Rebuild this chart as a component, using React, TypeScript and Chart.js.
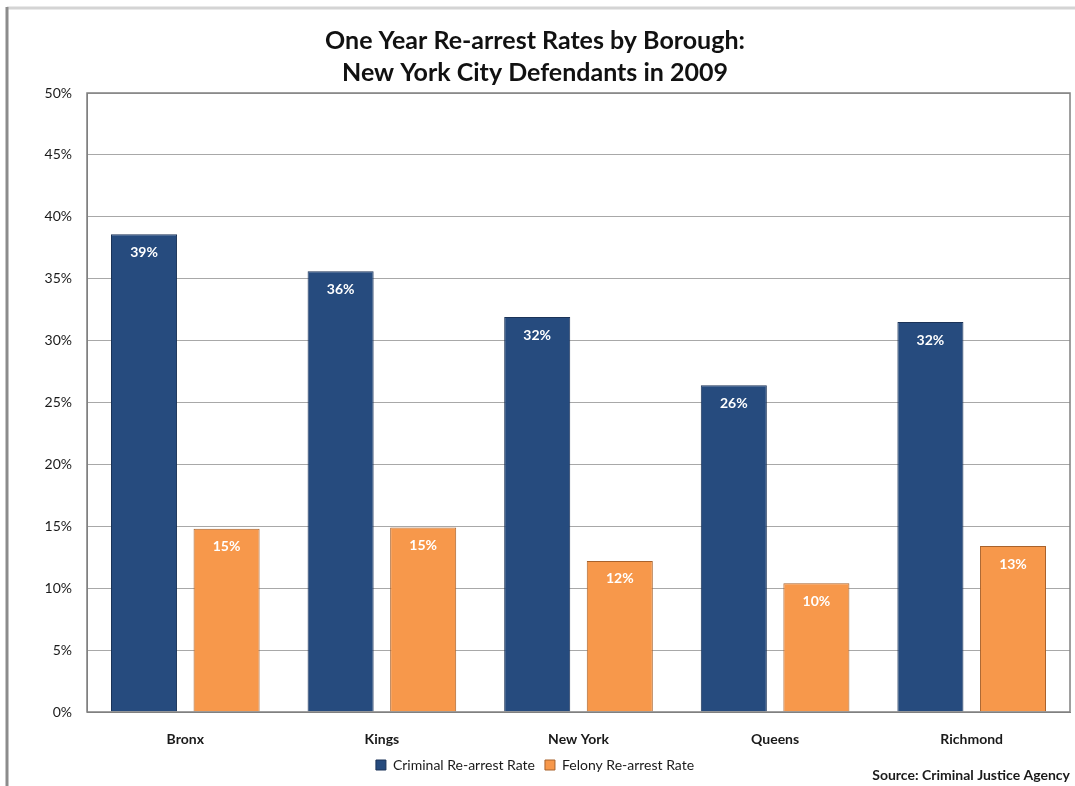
import React, { useEffect, useRef } from "react";
import { Chart, registerables } from "chart.js";

Chart.register(...registerables);

const boroughs = ["Bronx", "Kings", "New York", "Queens", "Richmond"];
const criminalRate = [38.6, 35.6, 31.9, 26.4, 31.5];
const felonyRate = [14.8, 14.9, 12.2, 10.4, 13.4];
const criminalLabels = ["39%", "36%", "32%", "26%", "32%"];
const felonyLabels = ["15%", "15%", "12%", "10%", "13%"];
const titleLines = ["One Year Re-arrest Rates by Borough:", "New York City Defendants in 2009"];
const sourceText = "Source: Criminal Justice Agency";

const FONT = "Lato, 'Open Sans', sans-serif";

export default function App() {
  const ref = useRef<HTMLCanvasElement | null>(null);

  useEffect(() => {
    document.body.style.margin = "0";
    const canvas = ref.current;
    if (!canvas) return;
    const labelSets = [criminalLabels, felonyLabels];

    const decor = {
      id: "decor",
      beforeDraw(chart: any) {
        const ctx = chart.ctx;
        ctx.save();
        ctx.fillStyle = "#ffffff";
        ctx.fillRect(0, 0, chart.width, chart.height);
        ctx.strokeStyle = "#d4d4d4";
        ctx.lineWidth = 3;
        ctx.beginPath();
        ctx.moveTo(7, 8);
        ctx.lineTo(chart.width, 8);
        ctx.stroke();
        ctx.strokeStyle = "#8c8c8c";
        ctx.lineWidth = 3;
        ctx.beginPath();
        ctx.moveTo(7, 7);
        ctx.lineTo(7, chart.height);
        ctx.stroke();
        ctx.restore();
      },
      afterDatasetsDraw(chart: any) {
        const ctx = chart.ctx;
        ctx.save();
        const a = chart.chartArea;
        ctx.strokeStyle = "#808080";
        ctx.lineWidth = 1.5;
        ctx.strokeRect(a.left, a.top, a.right - a.left, a.bottom - a.top);
        ctx.font = `bold 14px ${FONT}`;
        ctx.fillStyle = "#ffffff";
        ctx.textAlign = "center";
        ctx.textBaseline = "middle";
        chart.data.datasets.forEach((ds: any, di: number) => {
          const meta = chart.getDatasetMeta(di);
          meta.data.forEach((bar: any, i: number) => {
            ctx.fillText(labelSets[di][i], bar.x, bar.y + 18);
          });
        });
        ctx.font = `bold 14px ${FONT}`;
        ctx.fillStyle = "#1a1a1a";
        ctx.textAlign = "right";
        ctx.fillText(sourceText, 1070, 775);
        ctx.restore();
      },
    };

    const chart = new Chart(canvas, {
      type: "bar",
      data: {
        labels: boroughs,
        datasets: [
          {
            label: "Criminal Re-arrest Rate",
            data: criminalRate,
            backgroundColor: "#264b7e",
            borderColor: "#1b3358",
            borderWidth: 1,
            categoryPercentage: 0.84,
            barPercentage: 0.8,
          },
          {
            label: "Felony Re-arrest Rate",
            data: felonyRate,
            backgroundColor: "#f7984b",
            borderColor: "#a8622c",
            borderWidth: 1,
            categoryPercentage: 0.84,
            barPercentage: 0.8,
          },
        ],
      },
      options: {
        responsive: false,
        animation: false,
        layout: { padding: { left: 0, right: 5, top: 0, bottom: 4 } },
        plugins: {
          title: {
            display: true,
            text: titleLines,
            color: "#111111",
            font: { family: FONT, size: 25, weight: "bold", lineHeight: 1.28 },
            padding: { top: 25, bottom: 4 },
          },
          legend: {
            position: "bottom",
            labels: {
              color: "#1a1a1a",
              font: { family: FONT, size: 14 },
              boxWidth: 10,
              boxHeight: 10,
              padding: 10,
            },
          },
          tooltip: { enabled: false },
        },
        scales: {
          x: {
            grid: { display: false },
            border: { color: "#808080" },
            ticks: {
              color: "#1a1a1a",
              font: { family: FONT, size: 14, weight: "bold" },
              padding: 11,
            },
            afterFit(scale: any) {
              scale.height = 36;
            },
          },
          y: {
            min: 0,
            max: 50,
            grid: { color: "#a8a8a8", drawTicks: false, lineWidth: 1 },
            border: { color: "#808080" },
            ticks: {
              stepSize: 5,
              color: "#1a1a1a",
              font: { family: FONT, size: 14 },
              padding: 15,
              callback: (v: any) => v + "%",
            },
            afterFit(scale: any) {
              scale.width = 87;
            },
          },
        },
      },
      plugins: [decor],
    } as any);
    return () => chart.destroy();
  }, []);

  return (
    <div style={{ position: "absolute", left: 0, top: 0, width: 1075, height: 786 }}>
      <canvas ref={ref} width={1075} height={786} />
    </div>
  );
}
